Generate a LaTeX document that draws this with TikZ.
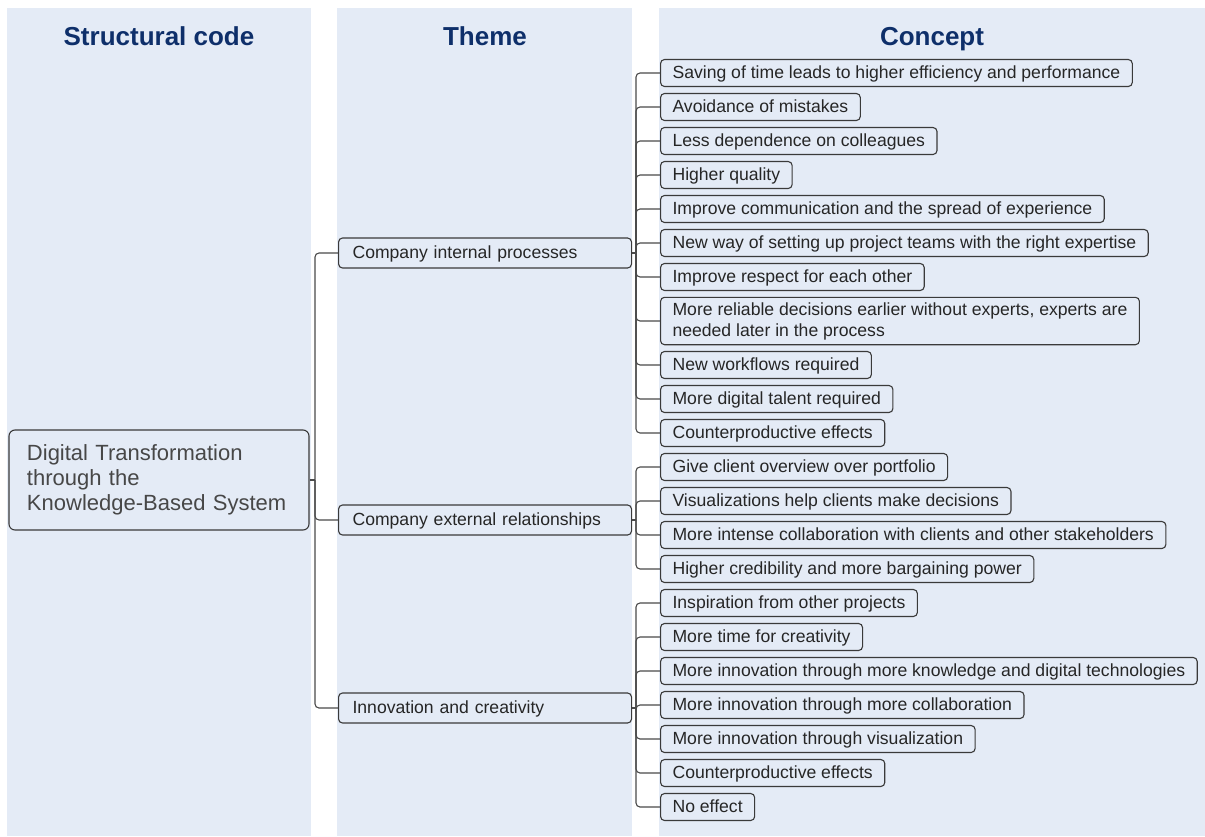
\documentclass[tikz,border=0pt]{standalone}
\usepackage{fontspec}
\setmainfont{Liberation Sans}
\definecolor{bgblue}{HTML}{E4EBF6}
\definecolor{headnavy}{HTML}{0E2F6A}
\definecolor{boxline}{HTML}{3A3A3A}
\definecolor{linegray}{HTML}{4A4A4A}
\definecolor{textdark}{HTML}{262626}
\definecolor{roottext}{HTML}{474747}
\begin{document}
\begin{tikzpicture}[x=1pt,y=-1pt,
  header/.style={font=\fontsize{26}{30}\selectfont\bfseries, text=headnavy, anchor=base},
  boxbase/.style={draw=boxline, line width=1.1pt, rounded corners=4pt, fill=bgblue,
    font=\fontsize{17.6}{21}\selectfont, text=textdark, align=left},
  conceptwide/.style={boxbase, anchor=west, inner xsep=12pt, inner ysep=5pt},
  concept/.style={boxbase, anchor=west, inner xsep=12pt, inner ysep=0pt,
    text height=14.5pt, text depth=3pt, minimum height=27pt},
  theme/.style={boxbase, anchor=west, text width=265pt, inner xsep=14pt, inner ysep=0pt,
    text height=14.5pt, text depth=3pt, minimum height=30pt},
  rootbox/.style={draw=boxline, line width=1.1pt, rounded corners=6pt, fill=bgblue,
    font=\fontsize{22}{25}\selectfont, text=roottext, align=left,
    text width=264pt, inner xsep=18pt, minimum height=100pt},
  link/.style={draw=linegray, line width=1.1pt, rounded corners=4pt}]
\useasboundingbox (0,0) rectangle (1205,836);

% column backgrounds
\fill[bgblue] (7,8) rectangle (311,836);
\fill[bgblue] (337,8) rectangle (632,836);
\fill[bgblue] (659,8) rectangle (1205,836);

% column headers
\node[header] (h1) at (159,45) {Structural code};
\node[header] (h2) at (485,45) {Theme};
\node[header] (h3) at (932,45) {Concept};

% structural code
\node[rootbox, anchor=center] (root) at (159,480)
  {Digital Transformation\\through the\\Knowledge-Based System};

% themes
\node[theme] (t1) at (338,253) {Company internal processes};
\node[theme] (t2) at (338,520) {Company external relationships};
\node[theme] (t3) at (338,708) {Innovation and creativity};

% concepts
\node[concept] (c1)  at (660,73)  {Saving of time leads to higher efficiency and performance};
\node[concept] (c2)  at (660,107) {Avoidance of mistakes};
\node[concept] (c3)  at (660,141) {Less dependence on colleagues};
\node[concept] (c4)  at (660,175) {Higher quality};
\node[concept] (c5)  at (660,209) {Improve communication and the spread of experience};
\node[concept] (c6)  at (660,243) {New way of setting up project teams with the right expertise};
\node[concept] (c7)  at (660,277) {Improve respect for each other};
\node[conceptwide] (c8) at (660,321)
  {More reliable decisions earlier without experts, experts are\\needed later in the process};
\node[concept] (c9)  at (660,365) {New workflows required};
\node[concept] (c10) at (660,399) {More digital talent required};
\node[concept] (c11) at (660,433) {Counterproductive effects};
\node[concept] (c12) at (660,467) {Give client overview over portfolio};
\node[concept] (c13) at (660,501) {Visualizations help clients make decisions};
\node[concept] (c14) at (660,535) {More intense collaboration with clients and other stakeholders};
\node[concept] (c15) at (660,569) {Higher credibility and more bargaining power};
\node[concept] (c16) at (660,603) {Inspiration from other projects};
\node[concept] (c17) at (660,637) {More time for creativity};
\node[concept] (c18) at (660,671) {More innovation through more knowledge and digital technologies};
\node[concept] (c19) at (660,705) {More innovation through more collaboration};
\node[concept] (c20) at (660,739) {More innovation through visualization};
\node[concept] (c21) at (660,773) {Counterproductive effects};
\node[concept] (c22) at (660,807) {No effect};

% root to themes
\coordinate (r0) at (315,480);
\draw[link] (root.east) -- (r0);
\foreach \t in {t1,t2,t3} \draw[link] (r0) |- (\t.west);

% themes to concepts
\coordinate (j1) at (636,253);
\coordinate (j2) at (636,520);
\coordinate (j3) at (636,708);
\draw[link] (t1.east) -- (j1);
\draw[link] (t2.east) -- (j2);
\draw[link] (t3.east) -- (j3);
\foreach \c in {c1,c2,c3,c4,c5,c6,c7,c8,c9,c10,c11} \draw[link] (j1) |- (\c.west);
\foreach \c in {c12,c13,c14,c15} \draw[link] (j2) |- (\c.west);
\foreach \c in {c16,c17,c18,c19,c20,c21,c22} \draw[link] (j3) |- (\c.west);
\end{tikzpicture}
\end{document}
